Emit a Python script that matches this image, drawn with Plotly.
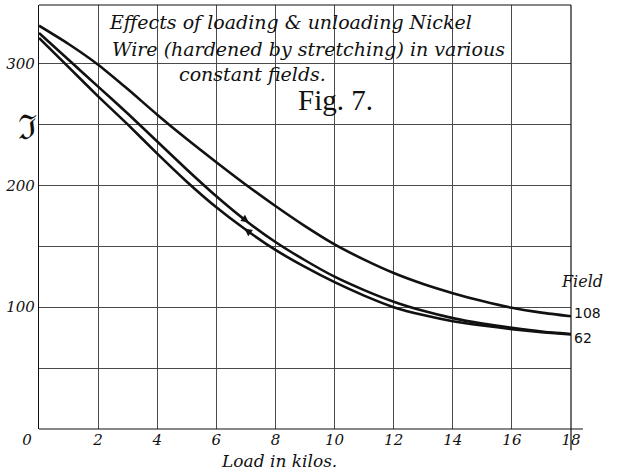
import plotly.graph_objects as go

# Load in kilos
load = [0, 1, 2, 3, 4, 5, 6, 7, 8, 9, 10, 11, 12, 13, 14, 15, 16, 17, 18]
# Field 108
field_108 = [331, 316, 299, 279, 258, 238, 219, 200.5, 183, 166.5, 151.5, 139, 128, 119, 111.5, 105, 99.5, 95.5, 92.5]
# Field 62, loading (upper branch)
field_62_loading = [325, 303, 281, 259, 236, 213, 191, 171, 153.5, 138.5, 125, 114, 104.5, 97, 91, 86.5, 83, 80, 78]
# Field 62, unloading (lower branch)
field_62_unloading = [321, 297, 273, 250, 226, 203, 182, 163.5, 147, 133, 120.5, 109.5, 100, 93.5, 88.5, 85, 82, 79.5, 77.5]

x_tickvals = [0, 2, 4, 6, 8, 10, 12, 14, 16, 18]
x_ticktext = ["0\u00a0\u00a0\u00a0\u00a0\u00a0", "2", "4", "6", "8", "10", "12", "14", "16", "18"]
y_tickvals = [50, 100, 150, 200, 250, 300]
y_ticktext = ["", "100", "", "200", "", "300"]

title_lines = ["Effects of loading &amp; unloading Nickel",
               "Wire (hardened by stretching) in various",
               "constant fields."]
fig_label = "Fig. 7."
curve_labels = ["108", "62"]

INK = "#111111"
GRID = "#4a4a4a"
HAND = "DejaVu Serif"

fig = go.Figure()
for ys in (field_108, field_62_loading, field_62_unloading):
    fig.add_trace(go.Scatter(x=load, y=ys, mode="lines",
                             line=dict(color=INK, width=2.6, shape="spline", smoothing=0.6),
                             hoverinfo="skip", showlegend=False))

fig.update_layout(
    width=630, height=475,
    margin=dict(l=37, r=59, t=5, b=46),
    paper_bgcolor="white", plot_bgcolor="white",
    showlegend=False,
    xaxis=dict(range=[0, 18], tickvals=x_tickvals, ticktext=x_ticktext,
               showgrid=True, gridcolor=GRID, gridwidth=1,
               showline=False, zeroline=False, ticks="",
               tickfont=dict(family=HAND, size=15, color=INK, style="italic"),
               fixedrange=True),
    yaxis=dict(range=[0, 348], tickvals=y_tickvals, ticktext=y_ticktext,
               showgrid=True, gridcolor=GRID, gridwidth=1,
               showline=True, linecolor=INK, linewidth=1.2,
               zeroline=False, ticks="",
               tickfont=dict(family=HAND, size=15, color=INK, style="italic"),
               fixedrange=True),
)

# frame lines
fig.add_shape(type="line", xref="paper", yref="paper", x0=0, x1=1.0225, y0=0, y1=0,
              line=dict(color=INK, width=1.2))
fig.add_shape(type="line", xref="paper", yref="paper", x0=1, x1=1, y0=-0.05, y1=1,
              line=dict(color=INK, width=1.2))
fig.add_shape(type="line", xref="paper", yref="paper", x0=0, x1=1, y0=1, y1=1,
              line=dict(color=INK, width=1.2))

# title lines
title_pos = [(105, 22), (108, 49), (176, 74)]
for txt, (px, py) in zip(title_lines, title_pos):
    fig.add_annotation(text="<i>" + txt + "</i>", xref="paper", yref="paper",
                       x=(px - 37) / 534, y=(429 - py) / 424, xanchor="left", yanchor="middle",
                       showarrow=False, font=dict(family=HAND, size=19, color=INK))
fig.add_annotation(text=fig_label, xref="paper", yref="paper",
                   x=(295 - 37) / 534, y=(429 - 100) / 424, xanchor="left", yanchor="middle",
                   showarrow=False, font=dict(family="Liberation Serif", size=29, color=INK))

# axis titles
fig.add_annotation(text="ℑ", xref="paper", yref="paper",
                   x=(25 - 37) / 534, y=(429 - 127) / 424, xanchor="center", yanchor="middle",
                   showarrow=False, font=dict(family="DejaVu Serif", size=34, color=INK))
fig.add_annotation(text="<i>Load in kilos.</i>", xref="paper", yref="paper",
                   x=(218 - 37) / 534, y=(429 - 461) / 424, xanchor="left", yanchor="middle",
                   showarrow=False, font=dict(family=HAND, size=17, color=INK))

# curve labels
fig.add_annotation(text="<i>Field</i>", xref="paper", yref="paper",
                   x=(559 - 37) / 534, y=(429 - 281) / 424, xanchor="left", yanchor="middle",
                   showarrow=False, font=dict(family=HAND, size=16, color=INK))
fig.add_annotation(text=curve_labels[0], x=18, y=field_108[-1], xanchor="left", yanchor="middle",
                   xshift=1, yshift=3, showarrow=False,
                   font=dict(family="DejaVu Sans", size=14, color=INK))
fig.add_annotation(text=curve_labels[1], x=18, y=field_62_unloading[-1], xanchor="left", yanchor="middle",
                   xshift=1, yshift=-3, showarrow=False,
                   font=dict(family="DejaVu Sans", size=14, color=INK))

# direction arrows on the 62 loop
fig.add_annotation(x=7.1, y=169.5, ax=-8, ay=-6, text="", showarrow=True,
                   arrowhead=2, arrowsize=1.1, arrowwidth=1.4, arrowcolor=INK)
fig.add_annotation(x=6.95, y=164.5, ax=8, ay=6, text="", showarrow=True,
                   arrowhead=2, arrowsize=1.1, arrowwidth=1.4, arrowcolor=INK)

fig.write_html("out.html")
